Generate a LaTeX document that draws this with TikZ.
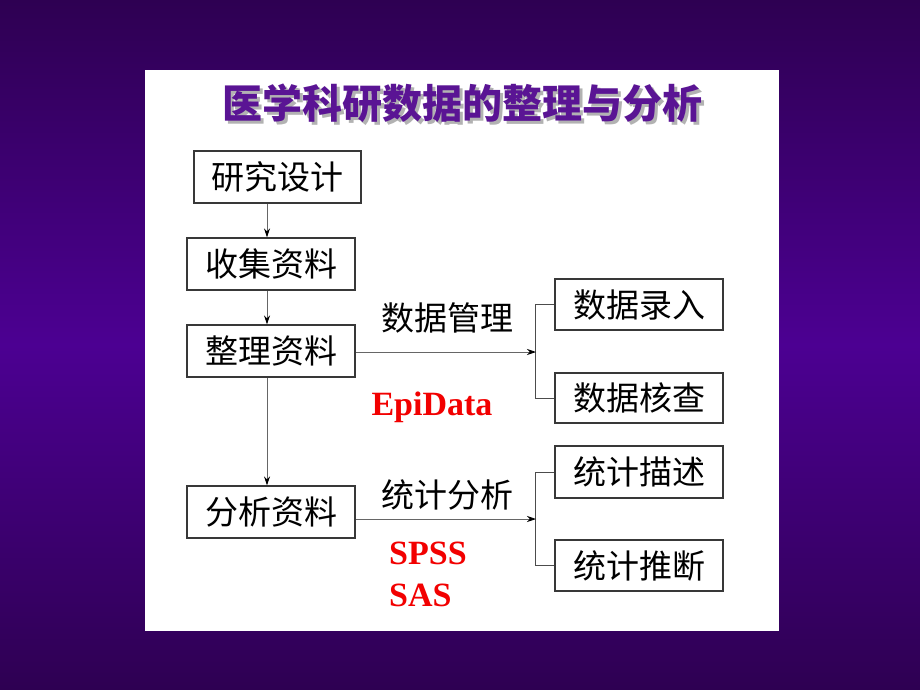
\documentclass[tikz,border=0pt]{standalone}
\usepackage{fontspec}
\newfontfamily\cjk{Noto Sans CJK SC}
\newfontfamily\tms{Liberation Serif}
\usetikzlibrary{arrows.meta}
\definecolor{bgdark}{HTML}{2E0052}
\definecolor{bgmid}{HTML}{4C0092}
\definecolor{titlepurple}{HTML}{5A1494}
\definecolor{redtxt}{HTML}{F20000}
\tikzset{
  stepbox/.style={draw=black!78, line width=1.1pt, fill=white, minimum width=168pt, minimum height=52pt, inner sep=0pt, font=\cjk\fontsize{33}{33}\selectfont},
  lbl/.style={inner sep=0pt, font=\cjk\fontsize{33}{33}\selectfont},
  redlbl/.style={inner sep=0pt, text=redtxt, font=\tms\bfseries\fontsize{34}{34}\selectfont},
  arr/.style={draw=black!60, line width=0.8pt, -{Stealth[length=9pt,width=6pt,color=black]}},
  brk/.style={draw=black!70, line width=1pt}
}
\begin{document}
\begin{tikzpicture}[x=1pt,y=-1pt]
\useasboundingbox (0,0) rectangle (920,690);
% background
\shade[top color=bgdark, bottom color=bgmid] (0,0) rectangle (920,345);
\shade[top color=bgmid, bottom color=bgdark] (0,345) rectangle (920,690);
\fill[white] (145,70) rectangle (779,631);
% title
\node[inner sep=0pt, text=black!30, font=\cjk\bfseries\fontsize{40}{40}\selectfont] (titleshadow) at (465,106) {医学科研数据的整理与分析};
\node[inner sep=0pt, text=titlepurple, font=\cjk\bfseries\fontsize{40}{40}\selectfont] (title) at (462,103) {医学科研数据的整理与分析};
% left column
\node[stepbox, minimum width=167pt] (yj) at (277.5,177) {研究设计};
\node[stepbox] (sj) at (271,264) {收集资料};
\node[stepbox] (zl) at (271,351) {整理资料};
\node[stepbox] (fx) at (271,512) {分析资料};
% right column
\node[stepbox, minimum height=51pt] (lr) at (639,304.5) {数据录入};
\node[stepbox, minimum height=50pt] (hc) at (639,398) {数据核查};
\node[stepbox] (ms) at (639,472) {统计描述};
\node[stepbox, minimum height=51pt] (tt) at (639,565.5) {统计推断};
% vertical arrows
\draw[arr] ([xshift=-10.5pt]yj.south) -- ([xshift=-4pt]sj.north);
\draw[arr] ([xshift=-4pt]sj.south) -- ([xshift=-4pt]zl.north);
\draw[arr] ([xshift=-4pt]zl.south) -- ([xshift=-4pt]fx.north);
% brackets
\coordinate (b1) at (536,352);
\coordinate (b2) at (536,519);
\draw[brk] (lr.west) -- ++(-19,0) |- (hc.west);
\draw[brk] (ms.west) -- ++(-19,0) |- (tt.west);
\draw[arr] (zl.east |- b1) -- (b1);
\draw[arr] (fx.east |- b2) -- (b2);
% labels
\node[lbl] (sjgl) at (447,318) {数据管理};
\node[lbl] (tjfx) at (447,495) {统计分析};
\node[redlbl] (epi) at (432,407) {EpiData};
\node[redlbl, anchor=west] (spss) at (389,553) {SPSS};
\node[redlbl, anchor=west] (sas) at (389,595) {SAS};
\end{tikzpicture}
\end{document}
